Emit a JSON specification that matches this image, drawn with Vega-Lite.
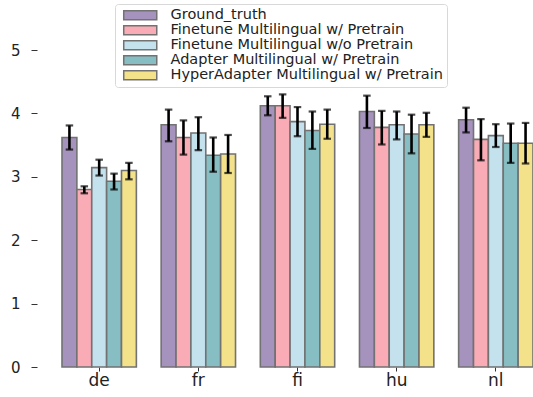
{
  "$schema": "https://vega.github.io/schema/vega-lite/v6.json",
  "width": 471,
  "height": 362,
  "autosize": {"type": "none"},
  "padding": {"left": 62, "top": 5, "right": 0, "bottom": 30},
  "background": "white",
  "config": {
    "view": {"stroke": null},
    "font": "DejaVu Sans",
    "axis": {"grid": false, "domain": false, "labelFont": "DejaVu Sans", "labelColor": "#222", "tickColor": "#333"}
  },
  "data": {
    "values": [
      {"lang": "de", "model": "Ground_truth", "value": 3.62, "lo": 3.43, "hi": 3.81},
      {"lang": "de", "model": "Finetune Multilingual w/ Pretrain", "value": 2.80, "lo": 2.74, "hi": 2.85},
      {"lang": "de", "model": "Finetune Multilingual w/o Pretrain", "value": 3.145, "lo": 3.02, "hi": 3.27},
      {"lang": "de", "model": "Adapter Multilingual w/ Pretrain", "value": 2.93, "lo": 2.80, "hi": 3.05},
      {"lang": "de", "model": "HyperAdapter Multilingual w/ Pretrain", "value": 3.10, "lo": 2.96, "hi": 3.22},
      {"lang": "fr", "model": "Ground_truth", "value": 3.82, "lo": 3.56, "hi": 4.06},
      {"lang": "fr", "model": "Finetune Multilingual w/ Pretrain", "value": 3.62, "lo": 3.35, "hi": 3.89},
      {"lang": "fr", "model": "Finetune Multilingual w/o Pretrain", "value": 3.69, "lo": 3.42, "hi": 3.94},
      {"lang": "fr", "model": "Adapter Multilingual w/ Pretrain", "value": 3.34, "lo": 3.08, "hi": 3.62},
      {"lang": "fr", "model": "HyperAdapter Multilingual w/ Pretrain", "value": 3.36, "lo": 3.06, "hi": 3.66},
      {"lang": "fi", "model": "Ground_truth", "value": 4.12, "lo": 3.97, "hi": 4.27},
      {"lang": "fi", "model": "Finetune Multilingual w/ Pretrain", "value": 4.12, "lo": 3.93, "hi": 4.30},
      {"lang": "fi", "model": "Finetune Multilingual w/o Pretrain", "value": 3.87, "lo": 3.64, "hi": 4.10},
      {"lang": "fi", "model": "Adapter Multilingual w/ Pretrain", "value": 3.73, "lo": 3.44, "hi": 4.03},
      {"lang": "fi", "model": "HyperAdapter Multilingual w/ Pretrain", "value": 3.83, "lo": 3.60, "hi": 4.06},
      {"lang": "hu", "model": "Ground_truth", "value": 4.03, "lo": 3.77, "hi": 4.28},
      {"lang": "hu", "model": "Finetune Multilingual w/ Pretrain", "value": 3.78, "lo": 3.51, "hi": 4.04},
      {"lang": "hu", "model": "Finetune Multilingual w/o Pretrain", "value": 3.82, "lo": 3.59, "hi": 4.03},
      {"lang": "hu", "model": "Adapter Multilingual w/ Pretrain", "value": 3.675, "lo": 3.37, "hi": 3.98},
      {"lang": "hu", "model": "HyperAdapter Multilingual w/ Pretrain", "value": 3.82, "lo": 3.63, "hi": 4.01},
      {"lang": "nl", "model": "Ground_truth", "value": 3.90, "lo": 3.70, "hi": 4.09},
      {"lang": "nl", "model": "Finetune Multilingual w/ Pretrain", "value": 3.59, "lo": 3.26, "hi": 3.91},
      {"lang": "nl", "model": "Finetune Multilingual w/o Pretrain", "value": 3.65, "lo": 3.47, "hi": 3.83},
      {"lang": "nl", "model": "Adapter Multilingual w/ Pretrain", "value": 3.53, "lo": 3.22, "hi": 3.84},
      {"lang": "nl", "model": "HyperAdapter Multilingual w/ Pretrain", "value": 3.53, "lo": 3.21, "hi": 3.85}
    ]
  },
  "encoding": {
    "x": {
      "field": "lang", "type": "nominal", "sort": ["de", "fr", "fi", "hu", "nl"],
      "scale": {"paddingInner": 0.25, "paddingOuter": 0},
      "axis": {"title": null, "labelAngle": 0, "labelFontSize": 17, "tickSize": 4, "labelPadding": 1}
    },
    "xOffset": {
      "field": "model", "type": "nominal",
      "sort": ["Ground_truth", "Finetune Multilingual w/ Pretrain", "Finetune Multilingual w/o Pretrain", "Adapter Multilingual w/ Pretrain", "HyperAdapter Multilingual w/ Pretrain"],
      "scale": {"paddingInner": 0, "paddingOuter": 0}
    }
  },
  "layer": [
    {
      "mark": {"type": "bar", "stroke": "#727272", "strokeWidth": 1.6},
      "encoding": {
        "y": {
          "field": "value", "type": "quantitative",
          "scale": {"domain": [0, 5.71], "nice": false},
          "axis": {"title": null, "values": [0, 1, 2, 3, 4, 5], "format": "d", "labelFontSize": 15, "tickSize": 6, "labelPadding": 11, "offset": 25}
        },
        "color": {
          "field": "model", "type": "nominal",
          "sort": ["Ground_truth", "Finetune Multilingual w/ Pretrain", "Finetune Multilingual w/o Pretrain", "Adapter Multilingual w/ Pretrain", "HyperAdapter Multilingual w/ Pretrain"],
          "scale": {
            "domain": ["Ground_truth", "Finetune Multilingual w/ Pretrain", "Finetune Multilingual w/o Pretrain", "Adapter Multilingual w/ Pretrain", "HyperAdapter Multilingual w/ Pretrain"],
            "range": ["#a593be", "#faacb6", "#c4e2ee", "#86bec3", "#f3e28a"]
          },
          "legend": {
            "title": null,
            "orient": "none",
            "legendX": 53,
            "legendY": -1,
            "symbolType": "M-0.56,-1H6.78V1H-0.56Z",
            "symbolSize": 81,
            "symbolStrokeColor": "#727272",
            "symbolStrokeWidth": 1.5,
            "symbolOpacity": 1,
            "labelFontSize": 14.5,
            "labelFont": "DejaVu Sans",
            "labelColor": "#222",
            "labelOffset": 37,
            "rowPadding": -1,
            "padding": 4,
            "strokeColor": "#d8d8d8",
            "fillColor": "white",
            "cornerRadius": 3,
            "labelLimit": 400
          }
        }
      }
    },
    {
      "mark": {"type": "rule", "color": "black", "strokeWidth": 2.6},
      "encoding": {
        "y": {"field": "lo", "type": "quantitative"},
        "y2": {"field": "hi"}
      }
    },
    {
      "mark": {"type": "tick", "color": "black", "thickness": 2.2, "size": 7.5},
      "encoding": {"y": {"field": "lo", "type": "quantitative"}}
    },
    {
      "mark": {"type": "tick", "color": "black", "thickness": 2.2, "size": 7.5},
      "encoding": {"y": {"field": "hi", "type": "quantitative"}}
    }
  ]
}
